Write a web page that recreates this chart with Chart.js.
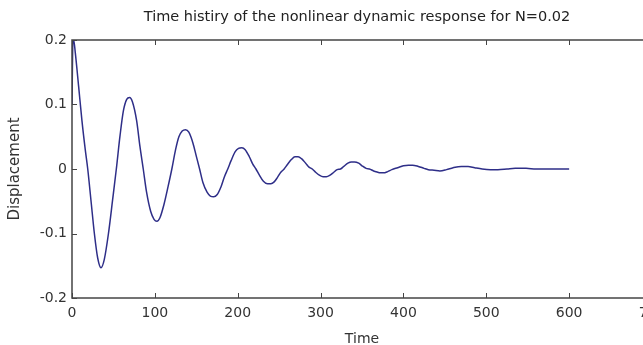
<!DOCTYPE html>
<html>
<head>
<meta charset="utf-8">
<script src="https://cdn.jsdelivr.net/npm/chart.js@4.4.0/dist/chart.umd.min.js"></script>
<style>
  html, body { margin: 0; padding: 0; background: #fff; overflow: hidden; }
  #wrap { width: 660px; height: 345px; }
</style>
</head>
<body>
<div id="wrap"><canvas id="c" width="660" height="345"></canvas></div>
<script>
const chartTitle = "Time histiry of the nonlinear dynamic response for N=0.02";
const xTicks = [0, 100, 200, 300, 400, 500, 600, 700];
const yTicks = [-0.2, -0.1, 0, 0.1, 0.2];

const timeValues = [
  0, 1, 2, 4, 8, 12, 16, 19, 23, 27, 31, 35, 39, 44, 49, 53.5, 58, 62, 66, 69.5,
  73, 78, 82, 86, 90, 95, 99, 102.5, 106, 111, 116, 120.5, 125, 129, 133, 137,
  141, 146, 150, 154, 158, 163, 167, 171, 175, 180, 184, 188, 192, 197, 201, 205,
  209, 214, 218, 222, 226, 231, 236, 240, 244, 248, 252, 256, 260, 265, 269, 273,
  277, 282, 286, 290, 294, 299, 303, 307, 311, 316, 320, 324, 328, 333, 337, 341,
  346, 350, 355, 359, 364, 369, 372, 376, 381, 386, 393, 400, 406, 411, 418, 425,
  430, 437, 444, 452, 460, 470, 478, 486, 495, 505, 514, 525, 535, 548, 560, 575,
  590, 600
];
const displacementValues = [
  0.100, 0.195, 0.200, 0.180, 0.128, 0.075, 0.030, 0.000, -0.050, -0.100, -0.138, -0.153, -0.140, -0.100, -0.048, 0.000, 0.052, 0.090, 0.108, 0.111,
  0.104, 0.075, 0.035, 0.000, -0.036, -0.066, -0.078, -0.081, -0.076, -0.055, -0.027, 0.000, 0.030, 0.050, 0.059, 0.061,
  0.057, 0.040, 0.020, 0.000, -0.021, -0.036, -0.042, -0.043, -0.040, -0.027, -0.012, 0.000, 0.013, 0.027, 0.032, 0.033,
  0.030, 0.019, 0.008, 0.000, -0.009, -0.019, -0.023, -0.023, -0.020, -0.013, -0.005, 0.000, 0.007, 0.015, 0.019, 0.019,
  0.016, 0.009, 0.003, 0.000, -0.005, -0.010, -0.012, -0.012, -0.010, -0.005, -0.001, 0.000, 0.004, 0.009, 0.011, 0.011,
  0.009, 0.005, 0.001, 0.000, -0.003, -0.005, -0.006, -0.006, -0.004, -0.001, 0.002, 0.005, 0.006, 0.006, 0.004, 0.001,
  -0.001, -0.002, -0.003, -0.001, 0.002, 0.004, 0.004, 0.002, 0.000, -0.001, -0.001, 0.000, 0.001, 0.001, 0.000, 0.000,
  0.000, 0.000
];

const points = timeValues.map((t, i) => ({ x: t, y: displacementValues[i] }));

const axisColor = "#444";
const textColor = "#333";
const font = "'DejaVu Sans', Verdana, sans-serif";

// matlab style: box, inward ticks, title over the axes
const matlabAxes = {
  id: "matlabAxes",
  afterDraw(chart) {
    const { ctx, chartArea: a, scales } = chart;
    ctx.save();
    ctx.strokeStyle = axisColor;
    ctx.lineWidth = 1.5;
    ctx.strokeRect(a.left, a.top, a.right - a.left, a.bottom - a.top);
    ctx.lineWidth = 1;
    ctx.beginPath();
    xTicks.forEach(v => {
      const px = Math.round(scales.x.getPixelForValue(v)) + 0.5;
      ctx.moveTo(px, a.bottom); ctx.lineTo(px, a.bottom - 5);
      ctx.moveTo(px, a.top); ctx.lineTo(px, a.top + 5);
    });
    yTicks.forEach(v => {
      const py = Math.round(scales.y.getPixelForValue(v)) + 0.5;
      ctx.moveTo(a.left, py); ctx.lineTo(a.left + 5, py);
    });
    ctx.stroke();
    ctx.fillStyle = "#222";
    ctx.font = "14.5px " + font;
    ctx.textAlign = "center";
    ctx.textBaseline = "middle";
    ctx.fillText(chartTitle, (a.left + a.right) / 2 - 5, 17);
    ctx.restore();
  }
};

new Chart(document.getElementById("c"), {
  type: "line",
  data: {
    datasets: [{
      data: points,
      borderColor: "#2e2e88",
      borderWidth: 1.5,
      pointRadius: 0,
      cubicInterpolationMode: "monotone",
      fill: false
    }]
  },
  options: {
    responsive: false,
    devicePixelRatio: 1,
    animation: false,
    layout: { padding: { top: 40, right: 8, left: 0, bottom: 0 } },
    plugins: {
      legend: { display: false },
      tooltip: { enabled: false },
      title: { display: false }
    },
    scales: {
      x: {
        type: "linear",
        min: 0, max: 700,
        afterBuildTicks: s => { s.ticks = xTicks.map(v => ({ value: v })); },
        afterFit: s => { s.height = 47; s.paddingLeft = 0; s.paddingRight = 0; },
        grid: { drawOnChartArea: false, drawTicks: false },
        border: { display: false },
        ticks: { color: textColor, font: { size: 14, family: font }, padding: 7, maxRotation: 0 },
        title: { display: true, text: "Time", color: textColor, font: { size: 14, family: font }, padding: { top: 0, bottom: -3 } }
      },
      y: {
        min: -0.2, max: 0.2,
        afterBuildTicks: s => { s.ticks = yTicks.map(v => ({ value: v })); },
        afterFit: s => { s.width = 72; s.paddingTop = 0; s.paddingBottom = 0; },
        grid: { drawOnChartArea: false, drawTicks: false },
        border: { display: false },
        ticks: { color: textColor, font: { size: 14, family: font }, padding: 5, callback: v => String(Math.round(v * 10) / 10) },
        title: { display: true, text: "Displacement", color: textColor, font: { size: 15, family: font }, padding: { top: 6, bottom: 0 } }
      }
    }
  },
  plugins: [matlabAxes]
});
</script>
</body>
</html>
